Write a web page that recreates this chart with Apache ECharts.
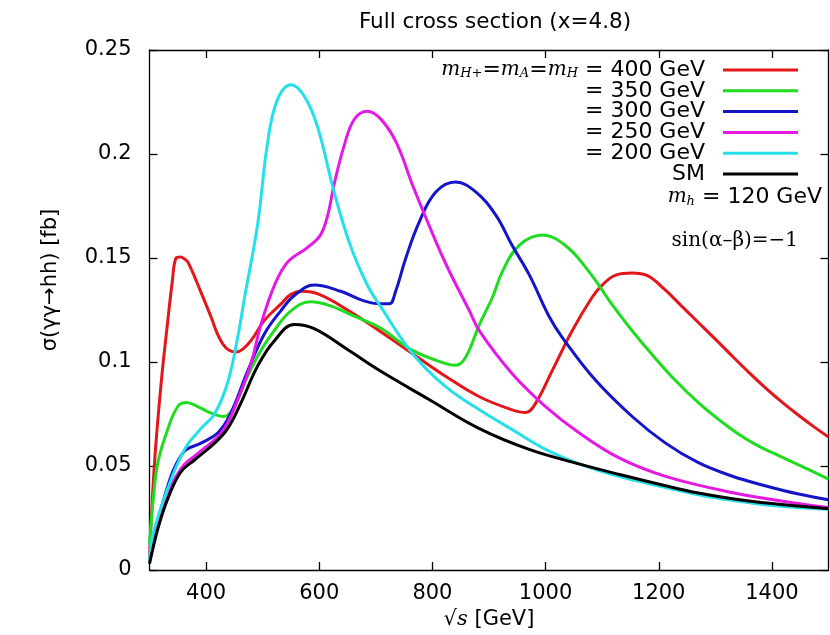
<!DOCTYPE html>
<html>
<head>
<meta charset="utf-8">
<script src="https://cdn.jsdelivr.net/npm/echarts@6/dist/echarts.min.js"></script>
<style>
html,body{margin:0;padding:0;background:#fff;overflow:hidden}
#chart{width:830px;height:635px}
</style>
</head>
<body>
<div id="chart"></div>
<script>
// ---- data: [sqrt(s) GeV, sigma fb] ----
const red400 = [[300,0.006],[309,0.052],[321,0.091],[332,0.119],[340,0.138],[347,0.150],[355,0.1505],[362,0.1495],[368,0.148],[391,0.1335],[409,0.1215],[420,0.1135],[430,0.1085],[440,0.1058],[453,0.1048],[465,0.1062],[480,0.1105],[503,0.120],[532,0.1278],[550,0.1325],[570,0.134],[600,0.1325],[650,0.125],[706,0.115],[765,0.104],[824,0.093],[883,0.0833],[941,0.077],[965,0.0757],[982,0.080],[1012,0.096],[1047,0.115],[1082,0.131],[1100,0.137],[1124,0.1418],[1153,0.1428],[1180,0.1415],[1210,0.135],[1240,0.127],[1270,0.119],[1300,0.111],[1330,0.1028],[1360,0.0948],[1390,0.0872],[1420,0.0802],[1450,0.0738],[1475,0.0687],[1500,0.064]];
const green350 = [[300,0.012],[307,0.035],[315,0.052],[332,0.0675],[350,0.0786],[365,0.0805],[385,0.0786],[409,0.0754],[432,0.0738],[450,0.0786],[473,0.093],[497,0.1056],[520,0.115],[550,0.1246],[585,0.129],[620,0.127],[667,0.1214],[706,0.1167],[765,0.1056],[824,0.0992],[841,0.0984],[859,0.1024],[883,0.118],[906,0.131],[924,0.1437],[953,0.156],[994,0.161],[1035,0.156],[1076,0.1437],[1117,0.1278],[1153,0.115],[1190,0.103],[1230,0.091],[1270,0.0805],[1310,0.0715],[1340,0.0655],[1370,0.0605],[1400,0.0565],[1450,0.0502],[1500,0.0437]];
const blue300 = [[300,0.004],[327,0.0357],[359,0.0563],[391,0.061],[421,0.066],[443,0.075],[474,0.096],[503,0.1135],[532,0.1246],[556,0.132],[591,0.137],[638,0.134],[679,0.1294],[708,0.128],[724,0.128],[735,0.134],[753,0.150],[777,0.1675],[806,0.1817],[841,0.1865],[877,0.1817],[912,0.1706],[941,0.156],[971,0.142],[1006,0.122],[1029,0.112],[1088,0.0913],[1153,0.0738],[1212,0.061],[1270,0.0516],[1329,0.0452],[1388,0.0405],[1447,0.0365],[1500,0.0338]];
const magenta250 = [[300,0.004],[327,0.0325],[355,0.0485],[385,0.056],[421,0.064],[438,0.0706],[456,0.082],[479,0.099],[497,0.118],[521,0.137],[544,0.148],[579,0.155],[602,0.161],[615,0.1706],[626,0.185],[644,0.204],[662,0.2167],[685,0.2206],[708,0.217],[736,0.2056],[765,0.185],[789,0.169],[824,0.147],[865,0.1248],[883,0.115],[941,0.0944],[1000,0.0786],[1059,0.066],[1129,0.054],[1212,0.045],[1329,0.0373],[1447,0.032],[1500,0.030]];
const cyan200 = [[300,0.004],[306,0.017],[332,0.039],[362,0.058],[391,0.068],[415,0.075],[438,0.090],[456,0.112],[468,0.131],[491,0.166],[509,0.206],[526,0.226],[550,0.2333],[573,0.228],[597,0.213],[626,0.182],[655,0.156],[685,0.137],[710,0.126],[765,0.104],[824,0.088],[883,0.077],[941,0.0675],[1000,0.058],[1059,0.051],[1129,0.045],[1212,0.0397],[1270,0.0362],[1329,0.0335],[1400,0.031],[1500,0.0292]];
const smLine = [[300,0.003],[315,0.020],[332,0.034],[355,0.047],[380,0.053],[415,0.061],[438,0.068],[461,0.080],[491,0.098],[520,0.110],[556,0.118],[591,0.116],[650,0.106],[706,0.096],[794,0.082],[883,0.068],[971,0.058],[1059,0.051],[1129,0.046],[1212,0.0405],[1270,0.037],[1330,0.0343],[1400,0.032],[1500,0.0295]];

const seriesNames = ['400','= 350 GeV','= 300 GeV','= 250 GeV','= 200 GeV','SM'];
const seriesColors = ['#e3161c','#1fdc1f','#1414c8','#e41ae4','#25e0e8','#000000'];
const seriesData = [red400, green350, blue300, magenta250, cyan200, smLine];
const xTicks = [400,600,800,1000,1200,1400];
const yMin = 0, yMax = 0.25, yStep = 0.05;
const xMin = 300, xMax = 1500;

const SANS = 'DejaVu Sans';
const SERIF = 'DejaVu Serif';

const chart = echarts.init(document.getElementById('chart'), null, {renderer:'canvas'});

const axisLineStyle = {color:'#000', width:1.3};
const baseX = {
  type:'value', min:xMin, max:xMax,
  splitLine:{show:false},
  axisLine:{show:true, onZero:false, lineStyle:axisLineStyle},
  axisTick:{show:true, inside:true, length:8, customValues:xTicks, lineStyle:axisLineStyle}
};
const baseY = {
  type:'value', min:yMin, max:yMax, interval:yStep,
  splitLine:{show:false},
  axisLine:{show:true, onZero:false, lineStyle:axisLineStyle},
  axisTick:{show:true, inside:true, length:8, lineStyle:axisLineStyle}
};

const option = {
  animation:false,
  backgroundColor:'#fff',
  title:{
    text:'Full cross section (x=4.8)',
    left:490, top:6, textAlign:'center',
    textStyle:{fontFamily:SANS, fontSize:21.5, fontWeight:'normal', color:'#000'}
  },
  grid:{left:149.5, right:1.5, top:50, bottom:60, containLabel:false},
  xAxis:[
    Object.assign({}, baseX, {
      position:'bottom',
      axisLabel:{customValues:xTicks, margin:13, fontFamily:SANS, fontSize:21, color:'#000',
        formatter:function(v){return String(v);}},
      name:'{r|√}{s|s} [GeV]', nameLocation:'middle', nameGap:39,
      nameTextStyle:{fontFamily:SANS, fontSize:21, color:'#000',
        rich:{r:{fontFamily:SERIF, fontSize:21, color:'#000'}, s:{fontFamily:SERIF, fontStyle:'italic', fontSize:21, color:'#000'}}}
    }),
    Object.assign({}, baseX, {position:'top', axisLabel:{show:false}})
  ],
  yAxis:[
    Object.assign({}, baseY, {
      position:'left',
      axisLabel:{margin:18, fontFamily:SANS, fontSize:21, color:'#000'},
      name:'σ(γγ→hh) [fb]', nameLocation:'middle', nameGap:88, nameRotate:90,
      nameTextStyle:{fontFamily:SANS, fontSize:21, color:'#000', padding:[0,0,0,60]}
    }),
    Object.assign({}, baseY, {position:'right', axisLabel:{show:false}})
  ],
  legend:{
    orient:'vertical', right:32, top:59, align:'right', padding:0,
    itemWidth:75, itemHeight:3, itemGap:-1.2, icon:'rect',
    selectedMode:false,
    data:seriesNames,
    formatter:function(name){
      if(name === '400') return '{mi|m}{sub|H+}{t|=}{mi|m}{sub|A}{t|=}{mi|m}{sub|H}{t| = 400 GeV}';
      return name;
    },
    textStyle:{
      fontFamily:SANS, fontSize:22, color:'#000', lineHeight:20.5, padding:[0,13,0,0],
      rich:{
        mi:{fontFamily:SERIF, fontStyle:'italic', fontSize:20, lineHeight:20.5, color:'#000'},
        sub:{fontFamily:SERIF, fontStyle:'italic', fontSize:13, lineHeight:13, verticalAlign:'bottom', color:'#000'},
        t:{fontFamily:SANS, fontSize:22, lineHeight:20.5, color:'#000'}
      }
    }
  },
  graphic:[
    {type:'text', right:8, top:186, z:100,
     style:{text:'{mi|m}{sub|h}{t| = 120 GeV}', fill:'#000',
       rich:{
         mi:{fontFamily:SERIF, fontStyle:'italic', fontSize:20, lineHeight:22, fill:'#000'},
         sub:{fontFamily:SERIF, fontStyle:'italic', fontSize:13, lineHeight:14, verticalAlign:'bottom', fill:'#000'},
         t:{fontFamily:SANS, fontSize:22, lineHeight:22, fill:'#000'}
       }}},
    {type:'text', right:32, top:231, z:100,
     style:{text:'sin(α–β)=−1', fill:'#000', font:'20px "DejaVu Serif"'}}
  ],
  series:seriesData.map(function(d,i){
    return {
      name:seriesNames[i], type:'line', data:d,
      xAxisIndex:0, yAxisIndex:0,
      showSymbol:false, symbol:'none',
      smooth:0.4,
      color:seriesColors[i],
      lineStyle:{color:seriesColors[i], width:3},
      emphasis:{disabled:true}
    };
  })
};
chart.setOption(option);
</script>
</body>
</html>
